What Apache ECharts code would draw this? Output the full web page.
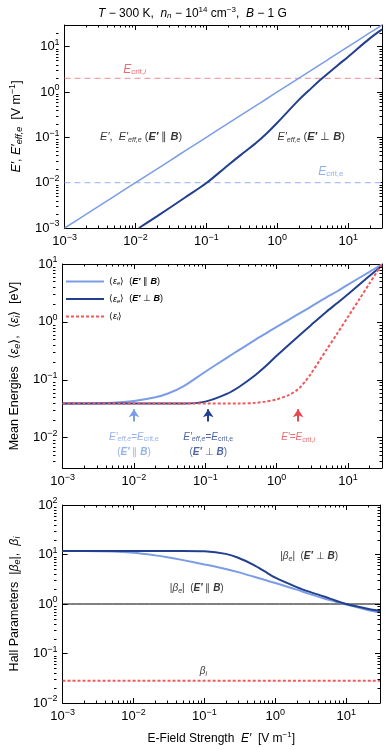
<!DOCTYPE html>
<html>
<head>
<meta charset="utf-8">
<script src="https://cdn.jsdelivr.net/npm/echarts@6/dist/echarts.min.js"></script>
<style>
  html, body { margin: 0; padding: 0; background: #fff; }
  #chart { width: 385px; height: 750px; }
</style>
</head>
<body>
<div id="chart"></div>
<script>
// field strength samples [V/m]
var E = [0.001, 0.002, 0.005, 0.01, 0.02, 0.03, 0.05, 0.1, 0.2, 0.3,
         0.5, 0.7, 1, 2, 3, 5, 7, 10, 20, 30];
// panel 1: E'eff,e for E' perp B
var effPerpX = [0.0112, 0.02, 0.05, 0.1, 0.2, 0.3, 0.5, 0.7, 1, 2, 3, 4.3, 7, 10, 20, 30];
var effPerpY = [0.001, 0.0018, 0.0047, 0.0098, 0.024, 0.04, 0.075, 0.12, 0.21, 0.66, 1.2, 2, 3.8, 6, 15, 24];
var Ecrit_i = 2;
var Ecrit_e = 0.01;
// panel 2: mean energies [eV]
var epsPar  = [0.039, 0.039, 0.040, 0.043, 0.050, 0.058, 0.078, 0.138, 0.24, 0.33,
               0.49, 0.63, 0.82, 1.36, 1.82, 2.65, 3.35, 4.41, 7.3, 9.9];
var epsPerp = [0.039, 0.039, 0.039, 0.039, 0.039, 0.039, 0.039, 0.042, 0.057, 0.076,
               0.12, 0.171, 0.26, 0.56, 0.87, 1.5, 2.1, 3.0, 6.2, 9.3];
var epsIX = [0.001, 0.3, 0.5, 0.7, 1, 1.5, 2, 2.5, 3, 4, 5, 7, 10, 15, 20, 30];
var epsI  = [0.039, 0.039, 0.040, 0.042, 0.046, 0.055, 0.069, 0.093, 0.125, 0.216,
             0.33, 0.62, 1.22, 2.65, 4.6, 10];
var arrowX = [0.01, 0.11, 2];
// panel 3: Hall parameters
var betaPerp = [11.8, 11.8, 11.8, 11.8, 11.8, 11.8, 11.8, 11.6, 10.3, 8.6,
                6.1, 4.6, 3.4, 2.2, 1.78, 1.4, 1.18, 1.0, 0.8, 0.72];
var betaPar  = [11.8, 11.8, 11.5, 10.8, 9.6, 8.8, 7.7, 6.3, 5.1, 4.4,
                3.55, 3.08, 2.65, 1.95, 1.6, 1.28, 1.12, 0.97, 0.76, 0.68];
var betaI = 0.028;
var xRange = [0.001, 30];

var FONT = '"Liberation Sans", Arial, sans-serif';
var LIGHT = '#7b9de6', DARK = '#23408e', RED = '#e8464c';

function mkRich(size) {
  var s = Math.round(size * 0.68);
  return {
    i:   { fontStyle: 'italic', fontSize: size, fontFamily: FONT },
    bi:  { fontStyle: 'italic', fontWeight: 'bold', fontSize: size, fontFamily: FONT },
    sub: { fontSize: s, fontFamily: FONT, padding: [Math.round(size * 0.45), 0, 0, 0] },
    isub:{ fontSize: s, fontStyle: 'italic', fontFamily: FONT, padding: [Math.round(size * 0.45), 0, 0, 0] },
    sup: { fontSize: s, fontFamily: FONT, padding: [0, 0, Math.round(size * 0.6), 0] }
  };
}

function pairs(xs, ys) {
  return xs.map(function (x, k) { return [x, ys[k]]; });
}

function logLabel(v) {
  var e = Math.log10(v);
  if (Math.abs(e - Math.round(e)) > 1e-6) return '';
  e = Math.round(e);
  return '10{sup|' + (e < 0 ? '\u2212' : '') + Math.abs(e) + '}';
}

var grids = [
  { left: 56, right: 3, top: 25, height: 203 },
  { left: 53, right: 3, top: 264, height: 204 },
  { left: 54, right: 5, top: 505, height: 198 }
];
var yRanges = [[0.001, 30], [0.003, 10], [0.01, 100]];
var yNames = [
  '{i|E\u2032}, {i|E\u2032}{isub|eff,e}  [V m{sup|\u22121}]',
  'Mean Energies  \u27e8{i|\u03b5}{isub|e}\u27e9,  \u27e8{i|\u03b5}{isub|i}\u27e9  [eV]',
  'Hall Parameters  |{i|\u03b2}{isub|e}|,  {i|\u03b2}{isub|i}'
];
var yGaps = [32, 36, 37];

var xAxes = [], yAxes = [];
grids.forEach(function (g, k) {
  var tick = { show: true, inside: true, length: 5, lineStyle: { color: '#000' } };
  var line = { show: true, lineStyle: { color: '#000', width: 1 } };
  xAxes.push({
    type: 'log', gridIndex: k, min: xRange[0], max: xRange[1], position: 'bottom',
    axisLine: line, axisTick: tick, splitLine: { show: false },
    axisLabel: { formatter: logLabel, color: '#000', fontSize: 13, fontFamily: FONT,
                 showMaxLabel: false, margin: 5, rich: mkRich(13) },
    name: k === 2 ? 'E-Field Strength  {i|E\u2032}  [V m{sup|\u22121}]' : '',
    nameLocation: 'middle', nameGap: 28,
    nameTextStyle: { color: '#000', fontSize: 12, fontFamily: FONT, rich: mkRich(12) }
  });
  xAxes.push({
    type: 'log', gridIndex: k, min: xRange[0], max: xRange[1], position: 'top',
    axisLine: line, axisTick: tick, splitLine: { show: false },
    axisLabel: { show: false }
  });
  yAxes.push({
    type: 'log', gridIndex: k, min: yRanges[k][0], max: yRanges[k][1], position: 'left',
    axisLine: line, axisTick: tick, splitLine: { show: false },
    axisLabel: { formatter: logLabel, color: '#000', fontSize: 13, fontFamily: FONT,
                 showMaxLabel: k === 1 || k === 2, showMinLabel: k !== 1, margin: 5, rich: mkRich(13) },
    name: yNames[k], nameLocation: 'middle', nameGap: yGaps[k],
    nameTextStyle: { color: '#000', fontSize: 12.5, fontFamily: FONT, rich: mkRich(12.5) }
  });
  yAxes.push({
    type: 'log', gridIndex: k, min: yRanges[k][0], max: yRanges[k][1], position: 'right',
    axisLine: line, axisTick: tick, splitLine: { show: false },
    axisLabel: { show: false }
  });
});

function lineSeries(name, gi, data, color, width, type) {
  return {
    name: name, type: 'line', xAxisIndex: gi * 2, yAxisIndex: gi * 2,
    data: data, symbol: 'none', smooth: 0.3,
    lineStyle: { color: color, width: width, type: type || 'solid' },
    itemStyle: { color: color }, silent: true
  };
}

function textSeries(gi, items) {
  return {
    type: 'scatter', xAxisIndex: gi * 2, yAxisIndex: gi * 2, symbolSize: 1,
    itemStyle: { color: 'rgba(0,0,0,0)' }, silent: true,
    data: items.map(function (t) {
      return {
        value: t.at,
        label: { show: true, position: 'inside', formatter: t.text, color: t.color || '#000',
                 fontSize: t.size || 11, fontFamily: FONT, align: 'center', lineHeight: t.lh || 14,
                 rich: mkRich(t.size || 11) }
      };
    })
  };
}

var series = [
  // panel 1
  lineSeries('crit_i', 0, [[xRange[0], Ecrit_i], [xRange[1], Ecrit_i]], '#f2a3a5', 1.2, [6, 4]),
  lineSeries('crit_e', 0, [[xRange[0], Ecrit_e], [xRange[1], Ecrit_e]], '#a9c0f2', 1.2, [6, 4]),
  lineSeries('Epar', 0, pairs(E, E), LIGHT, 1.5),
  lineSeries('Eperp', 0, pairs(effPerpX, effPerpY), DARK, 2),
  textSeries(0, [
    { at: [0.0097, 3.1], text: '{i|E}{sub|crit,}{isub|i}', color: RED, size: 12 },
    { at: [5.7, 0.0175], text: '{i|E}{sub|crit,e}', color: LIGHT, size: 12 },
    { at: [0.012, 0.1], text: '{i|E\u2032},  {i|E\u2032}{isub|eff,e} ({bi|E\u2032} \u2225 {bi|B})', size: 11 },
    { at: [3.0, 0.1], text: '{i|E\u2032}{isub|eff,e} ({bi|E\u2032} \u22a5 {bi|B})', size: 11 }
  ]),
  // panel 2
  lineSeries('eePar', 1, pairs(E, epsPar), LIGHT, 2),
  lineSeries('eePerp', 1, pairs(E, epsPerp), DARK, 2),
  lineSeries('ei', 1, pairs(epsIX, epsI), '#ee5a5e', 2, [3, 2]),
  {
    type: 'line', xAxisIndex: 2, yAxisIndex: 2, data: [], silent: true,
    markLine: {
      silent: true, symbol: ['none', 'arrow'], symbolSize: 8, label: { show: false },
      lineStyle: { width: 2, type: 'solid' },
      data: arrowX.map(function (x, k) {
        return [{ coord: [x, 0.019], lineStyle: { color: [LIGHT, DARK, RED][k] } }, { coord: [x, 0.031] }];
      })
    }
  },
  textSeries(1, [
    { at: [arrowX[0], 0.0077], color: LIGHT, size: 10, lh: 15,
      text: '{i|E\u2032}{isub|eff,e}={i|E}{sub|crit,e}\n({bi|E\u2032} \u2225 {bi|B})' },
    { at: [arrowX[1], 0.0077], color: DARK, size: 10, lh: 15,
      text: '{i|E\u2032}{isub|eff,e}={i|E}{sub|crit,e}\n({bi|E\u2032} \u22a5 {bi|B})' },
    { at: [arrowX[2], 0.0102], color: RED, size: 10,
      text: '{i|E\u2032}={i|E}{sub|crit,}{isub|i}' }
  ]),
  // panel 3
  lineSeries('unity', 2, [[xRange[0], 1], [xRange[1], 1]], '#000', 1),
  lineSeries('bi', 2, [[xRange[0], betaI], [xRange[1], betaI]], '#ee5a5e', 2, [3, 2]),
  lineSeries('bePar', 2, pairs(E, betaPar), LIGHT, 2),
  lineSeries('bePerp', 2, pairs(E, betaPerp), DARK, 2),
  textSeries(2, [
    { at: [3.0, 9.1], text: '|{i|\u03b2}{isub|e}|  ({bi|E\u2032} \u22a5 {bi|B})', size: 10 },
    { at: [0.078, 2.1], text: '|{i|\u03b2}{isub|e}|  ({bi|E\u2032} \u2225 {bi|B})', size: 10 },
    { at: [0.097, 0.044], text: '{i|\u03b2}{isub|i}', size: 10 }
  ])
];

var legendText = {
  eePar: '\u27e8{i|\u03b5}{isub|e}\u27e9  ({bi|E\u2032} \u2225 {bi|B})',
  eePerp: '\u27e8{i|\u03b5}{isub|e}\u27e9  ({bi|E\u2032} \u22a5 {bi|B})',
  ei: '\u27e8{i|\u03b5}{isub|i}\u27e9'
};

var chart = echarts.init(document.getElementById('chart'), null, { renderer: 'canvas' });
chart.setOption({
  backgroundColor: '#fff',
  animation: false,
  title: {
    text: '{i|T} \u2212 300 K,  {i|n}{isub|n} \u2212 10{sup|14} cm{sup|\u22123},  {i|B} \u2212 1 G',
    left: 'center', top: 1,
    textStyle: { fontSize: 12, fontWeight: 'normal', color: '#000', fontFamily: FONT, rich: mkRich(12) }
  },
  legend: {
    data: ['eePar', 'eePerp', 'ei'],
    orient: 'vertical', left: 60, top: 272, itemWidth: 38, itemHeight: 10, itemGap: 8,
    formatter: function (n) { return legendText[n]; },
    itemStyle: { opacity: 0 },
    textStyle: { fontSize: 9, color: '#000', fontFamily: FONT, rich: mkRich(9) },
    selectedMode: false
  },
  grid: grids,
  xAxis: xAxes,
  yAxis: yAxes,
  series: series
});

// minor log ticks (2..9 per decade), placed through the axes' own scales
var minor = [];
function tickLine(x1, y1, x2, y2) {
  minor.push({ type: 'line', silent: true, z: 10,
    shape: { x1: x1, y1: y1, x2: x2, y2: y2 }, style: { stroke: '#000', lineWidth: 1 } });
}
grids.forEach(function (g, k) {
  var top = g.top, bottom = g.top + g.height, left = g.left, right = 385 - g.right;
  for (var d = -3; d <= 2; d++) {
    for (var m = 2; m <= 9; m++) {
      var v = m * Math.pow(10, d);
      if (v > xRange[0] && v < xRange[1]) {
        var px = Math.round(chart.convertToPixel({ xAxisIndex: k * 2 }, v)) + 0.5;
        tickLine(px, bottom, px, bottom - 2.5);
        tickLine(px, top, px, top + 2.5);
      }
      if (v > yRanges[k][0] && v < yRanges[k][1]) {
        var py = Math.round(chart.convertToPixel({ yAxisIndex: k * 2 }, v)) + 0.5;
        tickLine(left, py, left + 2.5, py);
        tickLine(right, py, right - 2.5, py);
      }
    }
  }
});
chart.setOption({ graphic: minor });
</script>
</body>
</html>
